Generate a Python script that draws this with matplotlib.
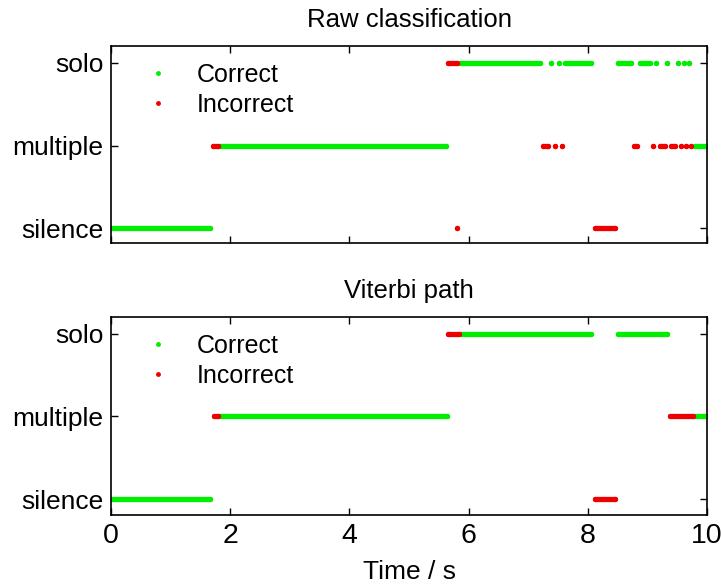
import numpy as np
import matplotlib
matplotlib.use('Agg')
import matplotlib.pyplot as plt
from matplotlib.lines import Line2D

plt.rcParams['font.family'] = ['Liberation Sans', 'DejaVu Sans']

# estados: 0 = silence, 1 = multiple, 2 = solo
estados = ['silence', 'multiple', 'solo']
x_ticks = [0, 2, 4, 6, 8, 10]

# tramos (estado, t_inicio, t_fin) en segundos
raw_correct = [
    (0, 0.0, 1.66),
    (1, 1.83, 5.62), (1, 9.80, 9.99),
    (2, 5.86, 7.20), (2, 7.38, 7.38), (2, 7.52, 7.52), (2, 7.62, 8.06),
    (2, 8.50, 8.72), (2, 8.88, 9.04), (2, 9.14, 9.14), (2, 9.33, 9.33),
    (2, 9.51, 9.51), (2, 9.61, 9.61), (2, 9.70, 9.70),
]
raw_incorrect = [
    (0, 5.80, 5.80), (0, 8.12, 8.45),
    (1, 1.71, 1.80), (1, 7.24, 7.34), (1, 7.45, 7.45), (1, 7.56, 7.56),
    (1, 8.78, 8.82), (1, 9.10, 9.10), (1, 9.21, 9.29), (1, 9.40, 9.46),
    (1, 9.56, 9.56), (1, 9.64, 9.64), (1, 9.73, 9.73),
    (2, 5.66, 5.80),
]

viterbi_correct = [
    (0, 0.0, 1.66),
    (1, 1.83, 5.63), (1, 9.80, 9.99),
    (2, 5.87, 8.06), (2, 8.50, 9.33),
]
viterbi_incorrect = [
    (0, 8.12, 8.45),
    (1, 1.72, 1.80), (1, 9.38, 9.77),
    (2, 5.66, 5.84),
]

verde = '#00ee00'
rojo = '#ee0000'


def dibujar(ax, correctos, incorrectos, titulo, ylim, con_xticks):
    for tramos, color in [(correctos, verde), (incorrectos, rojo)]:
        for est, t0, t1 in tramos:
            ax.plot([t0, t1], [est, est], color=color, lw=3.8,
                    solid_capstyle='round', marker='o', ms=3.8, mew=0)
    ax.set_xlim(0, 10)
    ax.set_ylim(*ylim)
    ax.set_yticks([0, 1, 2])
    ax.set_yticklabels(estados, fontsize=19)
    ax.set_xticks(x_ticks)
    if con_xticks:
        ax.set_xticklabels([str(t) for t in x_ticks], fontsize=20.5)
    else:
        ax.set_xticklabels([])
    ax.tick_params(direction='in', top=True, right=True, length=5, width=1,
                   pad=5.5)
    for s in ax.spines.values():
        s.set_linewidth(1.2)
    ax.set_title(titulo, fontsize=18.5, pad=14)
    handles = [Line2D([], [], ls='none', marker='o', ms=3.5, mew=0, color=verde),
               Line2D([], [], ls='none', marker='o', ms=3.5, mew=0, color=rojo)]
    ax.legend(handles, ['Correct', 'Incorrect'], loc='upper left',
              bbox_to_anchor=(0.02, 1.03), frameon=False, fontsize=18,
              handlelength=1.0, handletextpad=1.05, labelspacing=0.25)


fig = plt.figure(figsize=(7.21, 5.86), dpi=100)
ax1 = fig.add_axes([0.154, 0.585, 0.8266, 0.336])
ax2 = fig.add_axes([0.154, 0.121, 0.8266, 0.338])

dibujar(ax1, raw_correct, raw_incorrect, 'Raw classification', (-0.18, 2.2), False)
dibujar(ax2, viterbi_correct, viterbi_incorrect, 'Viterbi path', (-0.19, 2.2), True)
ax2.set_xlabel('Time / s', fontsize=19, labelpad=8)

fig.savefig('out.png', dpi=100)
